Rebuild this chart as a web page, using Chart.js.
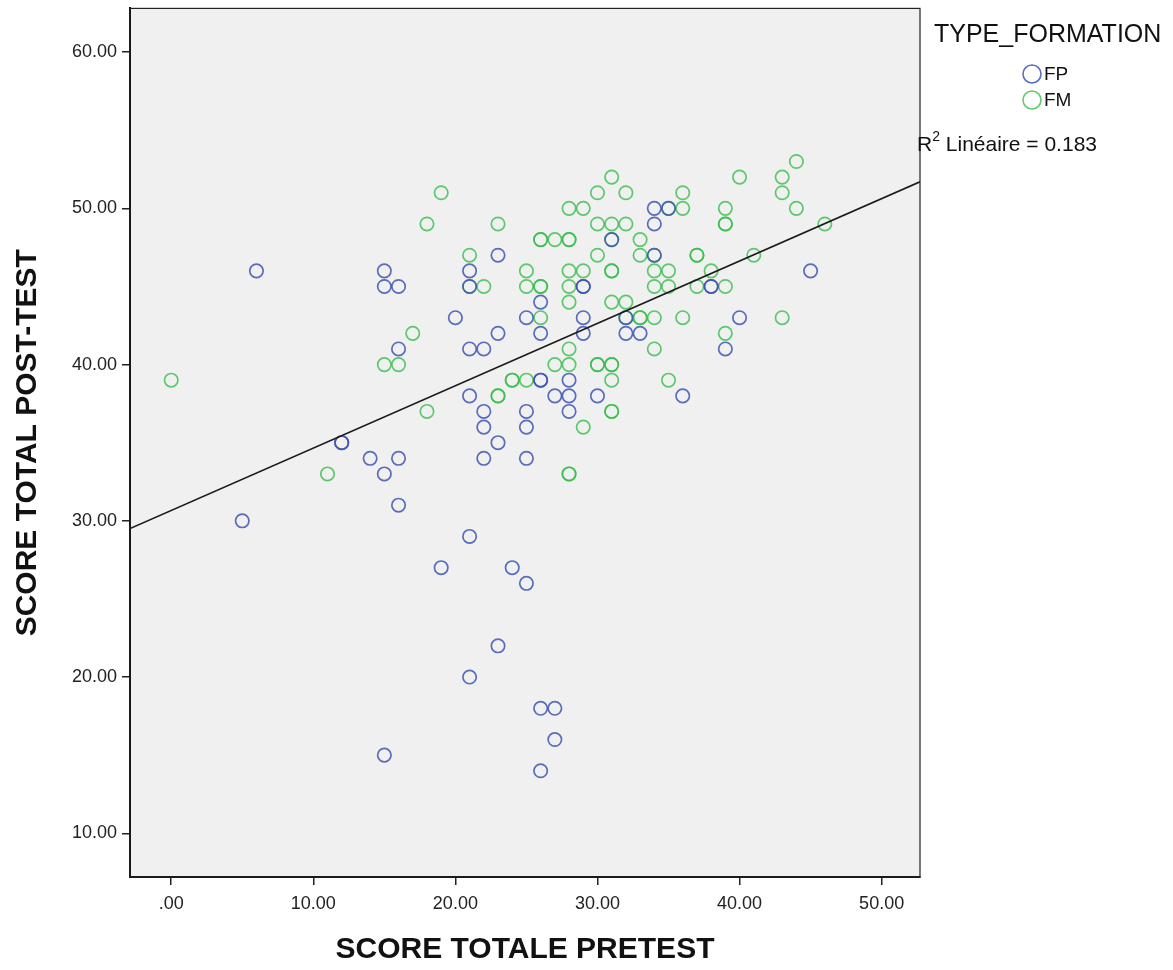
<!DOCTYPE html>
<html>
<head>
<meta charset="utf-8">
<script src="https://cdn.jsdelivr.net/npm/chart.js@4/dist/chart.umd.min.js"></script>
<style>
  html, body { margin: 0; padding: 0; background: #fff; }
  canvas { display: block; }
</style>
</head>
<body>
<canvas id="scatter" width="1173" height="970"></canvas>
<script>
// FP group (blue): [pretest, posttest]
const fpPoints = [
  [6, 46], [15, 46], [15, 45], [16, 45], [20, 43], [16, 41], [12, 35], [12, 35],
  [14, 34], [15, 33], [16, 34], [16, 31], [5, 30], [21, 29], [19, 27], [24, 27],
  [25, 26], [23, 22], [21, 20], [26, 18], [27, 18], [27, 16], [15, 15], [26, 14],
  [34, 50], [35, 50], [34, 49], [31, 48], [23, 47], [34, 47], [21, 46], [21, 45],
  [29, 45], [29, 45], [26, 44], [25, 43], [29, 43], [32, 43], [23, 42], [26, 42],
  [29, 42], [32, 42], [33, 42], [21, 41], [22, 41], [26, 39], [26, 39], [28, 39],
  [21, 38], [27, 38], [28, 38], [30, 38], [36, 38], [22, 37], [25, 37], [28, 37],
  [22, 36], [25, 36], [23, 35], [22, 34], [25, 34], [40, 43], [39, 41], [45, 46],
  [38, 45], [38, 45]
];

// FM group (green): [pretest, posttest]
const fmPoints = [
  [19, 51], [18, 49], [17, 42], [15, 40], [16, 40], [0, 39], [18, 37], [11, 33],
  [28, 33], [28, 33], [31, 52], [30, 51], [32, 51], [36, 51], [28, 50], [29, 50],
  [35, 50], [36, 50], [23, 49], [30, 49], [31, 49], [32, 49], [26, 48], [26, 48],
  [27, 48], [28, 48], [28, 48], [31, 48], [33, 48], [21, 47], [30, 47], [33, 47],
  [34, 47], [25, 46], [28, 46], [29, 46], [31, 46], [31, 46], [34, 46], [35, 46],
  [21, 45], [22, 45], [25, 45], [26, 45], [26, 45], [28, 45], [34, 45], [35, 45],
  [28, 44], [31, 44], [32, 44], [26, 43], [32, 43], [33, 43], [33, 43], [34, 43],
  [36, 43], [28, 41], [34, 41], [27, 40], [28, 40], [30, 40], [30, 40], [31, 40],
  [31, 40], [24, 39], [24, 39], [25, 39], [31, 39], [35, 39], [23, 38], [23, 38],
  [31, 37], [31, 37], [29, 36], [44, 53], [40, 52], [43, 52], [43, 51], [39, 50],
  [44, 50], [39, 49], [39, 49], [46, 49], [37, 47], [37, 47], [41, 47], [38, 46],
  [37, 45], [39, 45], [43, 43], [39, 42]
];

// fit line, at the plot edges
const fitX = [-2.9, 52.7];
const fitY = [29.5, 51.7];

const xTicks = [0, 10, 20, 30, 40, 50];
const xTickLabels = ['.00', '10.00', '20.00', '30.00', '40.00', '50.00'];
const yTicks = [10, 20, 30, 40, 50, 60];
const yTickLabels = ['10.00', '20.00', '30.00', '40.00', '50.00', '60.00'];

const groupNames = ['FP', 'FM'];
const legendTitle = 'TYPE_FORMATION';
const r2Value = '0.183';

const BLUE = 'rgba(62, 84, 180, 0.85)';
const GREEN = 'rgba(55, 190, 75, 0.8)';
const FONT = '"Liberation Sans", Arial, sans-serif';

const toXY = arr => arr.map(p => ({ x: p[0], y: p[1] }));

const plotDecor = {
  id: 'plotDecor',
  beforeDraw(chart) {
    const { ctx, chartArea: a } = chart;
    ctx.save();
    ctx.fillStyle = '#f0f0f0';
    ctx.fillRect(a.left, a.top, a.right - a.left, a.bottom - a.top);
    ctx.restore();
  },
  afterDraw(chart) {
    const { ctx, chartArea: a } = chart;
    ctx.save();
    ctx.strokeStyle = '#222';
    ctx.lineWidth = 1.2;
    ctx.strokeRect(a.left, a.top, a.right - a.left, a.bottom - a.top);

    // legend block
    ctx.fillStyle = '#111';
    ctx.textBaseline = 'middle';
    ctx.font = '25px ' + FONT;
    ctx.fillText(legendTitle, 934, 35);

    const colors = [BLUE, GREEN];
    const ys = [74, 100];
    ctx.font = '19px ' + FONT;
    groupNames.forEach((name, i) => {
      ctx.beginPath();
      ctx.strokeStyle = colors[i];
      ctx.lineWidth = 1.6;
      ctx.arc(1032, ys[i], 9, 0, Math.PI * 2);
      ctx.stroke();
      ctx.fillStyle = '#111';
      ctx.fillText(name, 1044, ys[i] + 1);
    });

    // R² label
    ctx.font = '21px ' + FONT;
    ctx.fillText('R', 917, 145);
    let x = 917 + ctx.measureText('R').width;
    ctx.font = '14px ' + FONT;
    ctx.fillText('2', x, 137);
    x += ctx.measureText('2').width;
    ctx.font = '21px ' + FONT;
    ctx.fillText(' Linéaire = ' + r2Value, x, 145);
    ctx.restore();
  }
};

new Chart(document.getElementById('scatter'), {
  type: 'scatter',
  data: {
    datasets: [
      {
        label: 'fit',
        data: fitX.map((v, i) => ({ x: v, y: fitY[i] })),
        showLine: true,
        borderColor: '#1a1a1a',
        borderWidth: 1.6,
        pointRadius: 0,
        fill: false
      },
      {
        label: groupNames[0],
        data: toXY(fpPoints),
        pointStyle: 'circle',
        pointRadius: 6.7,
        borderWidth: 1.7,
        borderColor: BLUE,
        backgroundColor: 'rgba(0,0,0,0)'
      },
      {
        label: groupNames[1],
        data: toXY(fmPoints),
        pointStyle: 'circle',
        pointRadius: 6.7,
        borderWidth: 1.7,
        borderColor: GREEN,
        backgroundColor: 'rgba(0,0,0,0)'
      }
    ]
  },
  options: {
    responsive: false,
    animation: false,
    layout: { padding: { top: 8, right: 253, left: 0, bottom: 0 } },
    plugins: {
      legend: { display: false },
      tooltip: { enabled: false }
    },
    scales: {
      x: {
        type: 'linear',
        min: -2.9,
        max: 52.7,
        afterFit: s => { s.height = 93; s.paddingLeft = 0; s.paddingRight = 0; },
        afterBuildTicks: s => { s.ticks = xTicks.map(v => ({ value: v })); },
        grid: { drawOnChartArea: false, drawTicks: true, tickLength: 8, color: '#222', lineWidth: 1.5 },
        border: { color: '#111', width: 2 },
        ticks: {
          color: '#222',
          padding: 8,
          font: { family: FONT, size: 18 },
          callback: v => xTickLabels[xTicks.indexOf(v)]
        },
        title: {
          display: true,
          text: 'SCORE TOTALE PRETEST',
          color: '#111',
          font: { family: FONT, size: 30, weight: 'bold' },
          padding: { top: 0, bottom: 2 }
        }
      },
      y: {
        type: 'linear',
        min: 7.2,
        max: 62.8,
        afterFit: s => { s.width = 130; s.paddingTop = 0; s.paddingBottom = 0; },
        afterBuildTicks: s => { s.ticks = yTicks.map(v => ({ value: v })); },
        grid: { drawOnChartArea: false, drawTicks: true, tickLength: 8, color: '#222', lineWidth: 1.5 },
        border: { color: '#111', width: 2 },
        ticks: {
          color: '#222',
          padding: 5,
          font: { family: FONT, size: 18 },
          callback: v => yTickLabels[yTicks.indexOf(v)]
        },
        title: {
          display: true,
          text: 'SCORE TOTAL POST-TEST',
          color: '#111',
          font: { family: FONT, size: 30, weight: 'bold' },
          padding: { top: 10, bottom: 0 }
        }
      }
    }
  },
  plugins: [plotDecor]
});
</script>
</body>
</html>
